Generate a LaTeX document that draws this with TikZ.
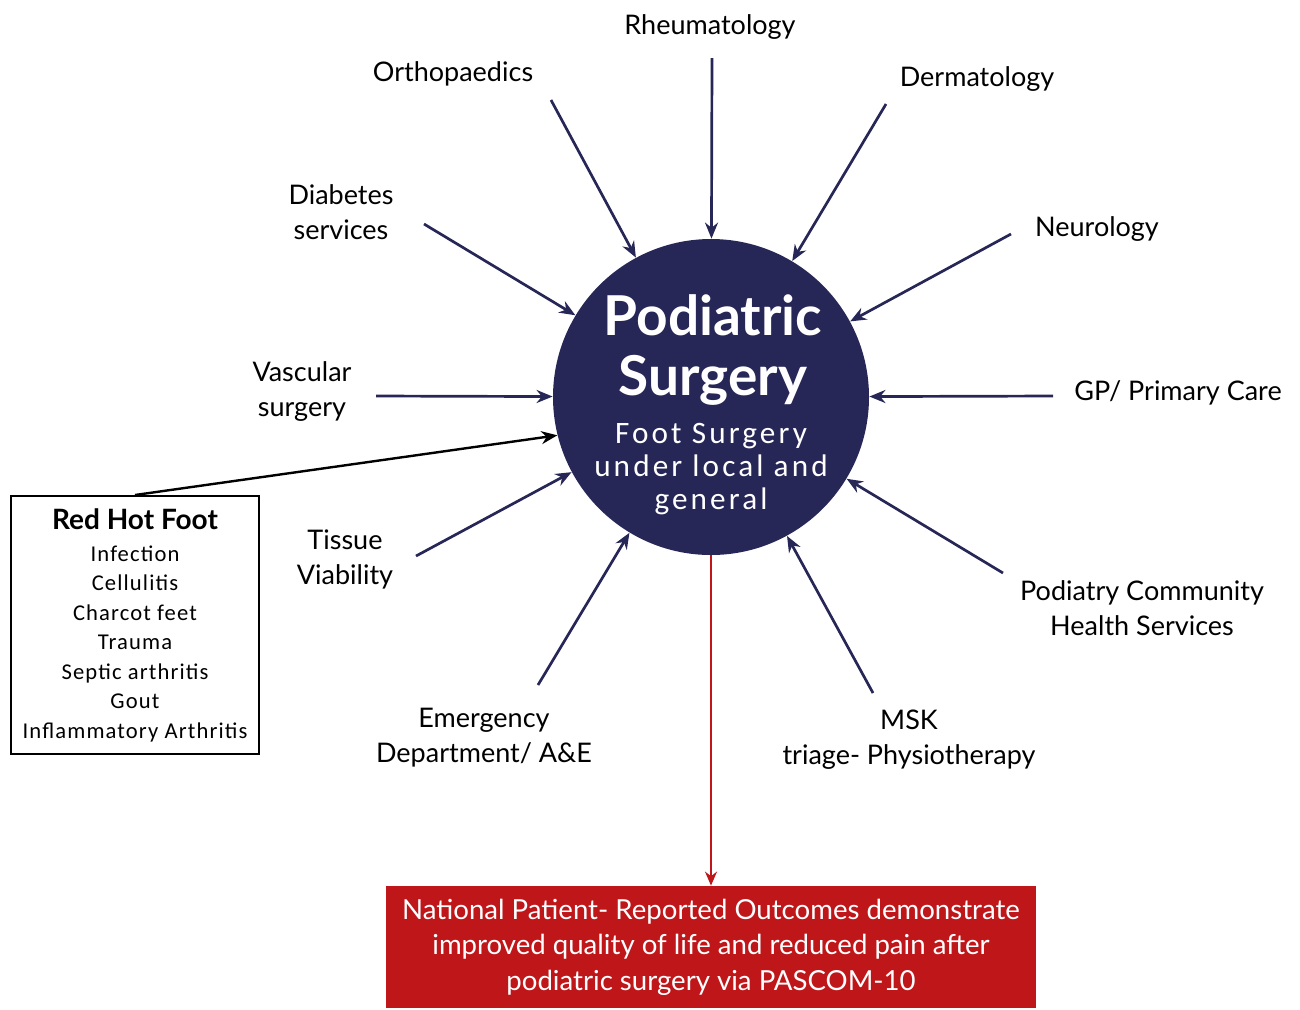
\documentclass[tikz,border=0pt]{standalone}
\usepackage{fontspec}
\setmainfont{Lato}
\newfontfamily\hubfont[LetterSpace=10]{Carlito}
\newfontfamily\listfont[LetterSpace=5]{Carlito}
\usetikzlibrary{positioning}
\usetikzlibrary{arrows.meta}
\definecolor{hubblue}{HTML}{262657}
\definecolor{outred}{HTML}{BF161A}

\begin{document}
\begin{tikzpicture}
 [ x=0.5pt
 , y=-0.5pt
 , service/.style={font=\fontsize{13.5}{17.5}\selectfont, align=center, inner sep=0pt}
 , referral/.style={draw=hubblue, line width=1.35pt, -{Stealth[length=8pt, width=6.5pt]}}
 , red hot/.style={draw=black, line width=1.2pt, -{Stealth[length=8pt, width=6.5pt]}}
 , result/.style={draw=outred, line width=1pt, -{Stealth[length=7pt, width=6pt]}}
 ]
  \useasboundingbox (0,0) rectangle (1300,1009);

  % the centre
  \node (hub) [circle, fill=hubblue, inner sep=0pt, minimum size=158pt] at (711,397) {};
  \node (hubtitle) [text=white, align=center, font=\bfseries\fontsize{27.5}{30}\selectfont]
    at (713,350) {Podiatric\\Surgery};
  \node (hubtext) [text=white, align=center, font=\hubfont\fontsize{15.6}{16.5}\selectfont]
    at (711,469) {Foot Surgery\\under local and\\general};

  % services round the centre
  \node (rheum)  [service] at (710,27)  {Rheumatology};
  \node (ortho)  [service] at (453,74)  {Orthopaedics};
  \node (derm)   [service] at (977,79)  {Dermatology};
  \node (diab)   [service] at (341,212) {Diabetes\\services};
  \node (neuro)  [service] at (1097,229) {Neurology};
  \node (vasc)   [service] at (302,392) {Vascular\\surgery};
  \node (gp)     [service] at (1178,393) {GP/ Primary Care};
  \node (tissue) [service] at (345,559) {Tissue\\Viability};
  \node (pchs)   [service] at (1142,608) {Podiatry Community\\Health Services};
  \node (ed)     [service] at (484,738) {Emergency\\Department/ A\&E};
  \node (msk)    [service] at (909,740) {MSK\\triage- Physiotherapy};

  \coordinate (rheum-out)  at (712,58);
  \coordinate (ortho-out)  at (551,100);
  \coordinate (derm-out)   at (886,104);
  \coordinate (diab-out)   at (424,224);
  \coordinate (neuro-out)  at (1011,234);
  \coordinate (vasc-out)   at (376,396);
  \coordinate (gp-out)     at (1053,396);
  \coordinate (tissue-out) at (416,556);
  \coordinate (pchs-out)   at (1003,573);
  \coordinate (ed-out)     at (538,685);
  \coordinate (msk-out)    at (873,693);

  \foreach \src in {rheum,ortho,derm,diab,neuro,vasc,gp,tissue,pchs,ed,msk}
    \draw [referral] (\src-out) -- (hub);

  % red hot foot
  \node (rhf) [draw, line width=1pt, minimum width=124pt, minimum height=129pt, align=center,
    font=\listfont\fontsize{11.3}{14.75}\selectfont] at (135,625)
    {{\rmfamily\bfseries\fontsize{14}{14}\selectfont Red Hot Foot}\\[1.2pt]
     Infection\\ Cellulitis\\ Charcot feet\\ Trauma\\ Septic arthritis\\ Gout\\
     Inflammatory Arthritis};
  \draw [red hot] (rhf.north) -- (hub.194);

  % outcome
  \node (outcome) [fill=outred, text=white, minimum width=325pt, minimum height=61pt,
    align=center, font=\fontsize{13.8}{17.75}\selectfont] at (711,947)
    {National Patient- Reported Outcomes demonstrate\\
     improved quality of life and reduced pain after\\
     podiatric surgery via PASCOM-10};
  \draw [result] (hub.south) -- (outcome.north);
\end{tikzpicture}
\end{document}
